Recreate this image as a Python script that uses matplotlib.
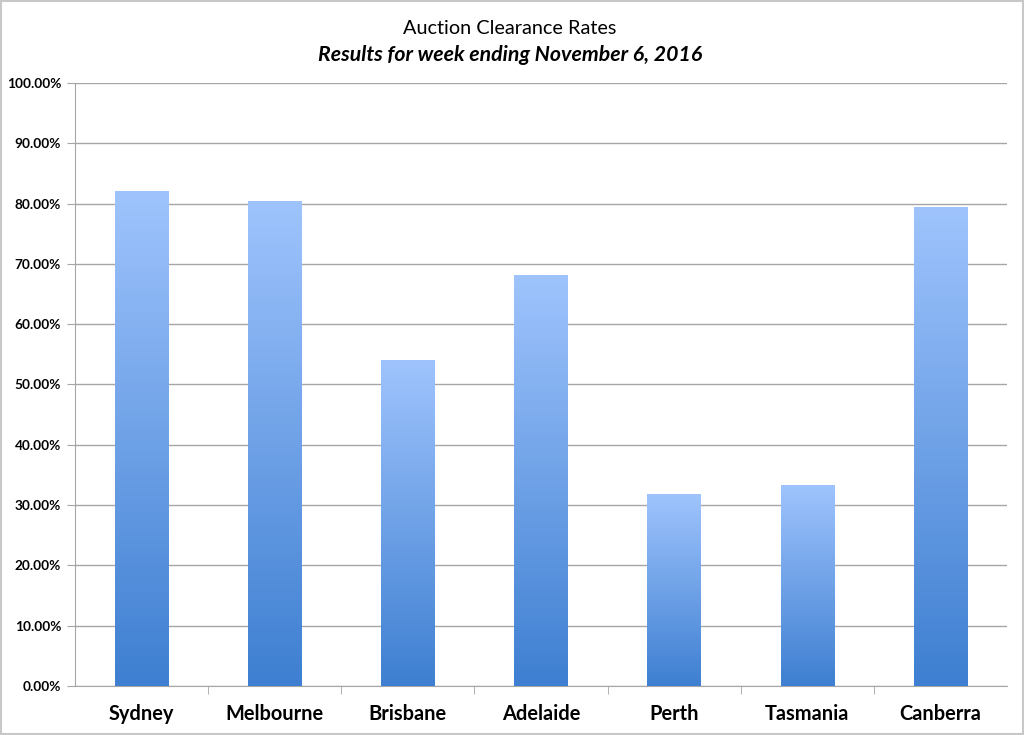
import numpy as np
import matplotlib.pyplot as plt
from matplotlib.colors import LinearSegmentedColormap
from matplotlib.ticker import FuncFormatter, FixedLocator

# =====================================
# DATA
# =====================================

cities = ["Sydney", "Melbourne", "Brisbane", "Adelaide", "Perth", "Tasmania", "Canberra"]
rates = [82.1, 80.5, 54.1, 68.1, 31.8, 33.3, 79.5]

title = "Auction Clearance Rates"
subtitle = "Results for week ending November 6, 2016"

# =====================================
# FIGURE
# =====================================

plt.rcParams["font.family"] = ["Lato", "DejaVu Sans"]

fig = plt.figure(figsize=(10.24, 7.35), dpi=100)
ax = fig.add_axes([0.0732, 0.0667, 0.9102, 0.8205])

x = np.arange(len(cities))
bars = ax.bar(x, rates, width=0.4, color="none", zorder=3)

# vertical gradient inside every bar
grad_cmap = LinearSegmentedColormap.from_list("bar", ["#3e7fd1", "#9fc4fd"])
gradient = np.linspace(0, 1, 256).reshape(-1, 1)
for b in bars:
    x0, w, h = b.get_x(), b.get_width(), b.get_height()
    im = ax.imshow(gradient, cmap=grad_cmap, origin="lower", aspect="auto",
                   extent=[x0, x0 + w, 0, h], zorder=3)
    im.set_clip_path(b)

ax.set_xlim(-0.5, len(cities) - 0.5)
ax.set_ylim(0, 100)

ax.yaxis.set_major_locator(FixedLocator(np.arange(0, 101, 10)))
ax.yaxis.set_major_formatter(FuncFormatter(lambda v, p: f"{v:.2f}%"))
ax.grid(axis="y", color="#a6a6a6", linewidth=1, zorder=0)

ax.set_xticks(x)
ax.set_xticklabels(cities, fontsize=14.4, fontweight="bold")
ax.set_xticks(np.arange(0.5, len(cities) - 1, 1), minor=True)
ax.tick_params(axis="x", which="major", length=0, pad=13)
ax.tick_params(axis="x", which="minor", length=6, color="#a6a6a6")
ax.tick_params(axis="y", length=6, color="#a6a6a6", labelsize=9.8, pad=4)
for lbl in ax.get_yticklabels():
    lbl.set_fontweight("bold")

for side in ["top", "right"]:
    ax.spines[side].set_visible(False)
for side in ["left", "bottom"]:
    ax.spines[side].set_color("#a6a6a6")

fig.text(0.498, 0.961, title, ha="center", va="center", fontsize=14.3)
fig.text(0.498, 0.925, subtitle, ha="center", va="center", fontsize=15.3,
         fontweight="bold", fontstyle="italic")

# thin border around the picture
fig.patches.append(plt.Rectangle((0.001, 0.001), 0.998, 0.998, transform=fig.transFigure,
                                 fill=False, edgecolor="#c8c8c8", linewidth=1.5))

fig.savefig("out.png", dpi=100)
